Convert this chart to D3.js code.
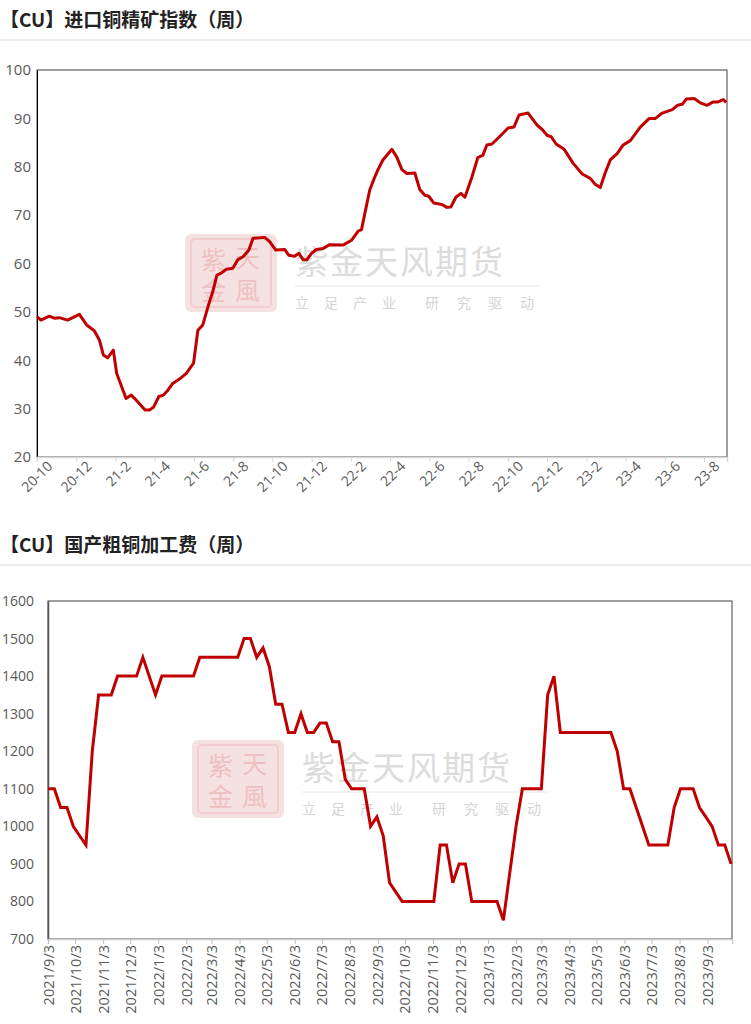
<!DOCTYPE html>
<html><head><meta charset="utf-8">
<script src="https://cdn.jsdelivr.net/npm/d3@7"></script>
<style>
body{margin:0;background:#fff;font-family:"Noto Sans CJK SC","Noto Sans",sans-serif;}
svg text{font-family:"Open Sans","Noto Sans CJK SC",sans-serif;}
</style></head><body>
<svg id="c" width="751" height="1024"></svg>
<script>
// ---- top chart: months since 2020-10 vs index ----
var topMonths = [0,0.20,0.63,0.88,1.14,1.56,2.16,2.53,2.92,3.18,3.38,3.60,3.89,4.06,4.54,4.80,5.05,5.51,5.73,5.94,
  6.21,6.45,6.67,6.92,7.26,7.61,7.98,8.20,8.45,8.71,8.96,9.17,9.39,9.65,9.98,10.24,10.50,10.80,11.01,11.60,
  11.86,12.16,12.62,12.84,13.13,13.35,13.56,13.76,13.99,14.24,14.58,14.92,15.60,16.03,16.37,16.54,16.96,
  17.22,17.37,17.63,18.09,18.34,18.60,18.85,19.26,19.51,19.77,19.97,20.23,20.64,20.89,21.10,21.35,21.61,21.81,
  22.17,22.47,22.73,22.93,23.19,23.60,24.01,24.31,24.57,25.03,25.49,25.75,26.00,26.21,26.46,26.87,27.33,27.79,
  28.20,28.45,28.71,28.96,29.22,29.57,29.88,30.24,30.75,31.21,31.52,31.87,32.38,32.64,32.89,33.09,33.50,33.81,
  34.16,34.47,34.72,34.98,35.13];
var topValues = [49.0,48.3,49.1,48.7,48.8,48.3,49.5,47.3,46.1,44.2,41.1,40.5,42.1,37.3,32.1,32.8,31.8,29.7,29.7,30.3,
  32.5,32.8,33.8,35.2,36.1,37.3,39.4,46.2,47.3,51.0,54.2,57.6,58.0,58.8,59.0,60.8,61.4,62.8,65.2,65.4,
  64.5,62.8,62.9,61.7,61.5,62.1,60.8,60.8,62.1,62.9,63.1,63.9,63.8,64.8,66.7,67.0,75.2,
  77.9,79.3,81.4,83.6,82.0,79.4,78.6,78.7,75.3,74.1,73.9,72.5,72.2,71.6,71.7,73.7,74.5,73.7,
  77.9,81.9,82.4,84.5,84.7,86.3,88.0,88.2,90.7,91.1,88.6,87.7,86.5,86.2,84.7,83.6,80.7,78.5,
  77.6,76.4,75.7,78.7,81.4,82.7,84.5,85.4,88.2,90.0,90.0,91.1,91.8,92.7,92.9,94.0,94.1,93.2,
  92.7,93.4,93.4,93.9,93.3];
var topTickLabels = ["20-10","20-12","21-2","21-4","21-6","21-8","21-10","21-12","22-2","22-4","22-6","22-8",
  "22-10","22-12","23-2","23-4","23-6","23-8"];
var topYTicks = [20,30,40,50,60,70,80,90,100];

// ---- bottom chart: weekly TC from 2021/9/3 ----
var bottomStart = "2021-09-03";
var bottomValues = [1100,1100,1050,1050,1000,975,950,1200,1350,1350,1350,1400,1400,1400,1400,1450,1400,1350,1400,
  1400,1400,1400,1400,1400,1450,1450,1450,1450,1450,1450,1450,1500,1500,1450,1475,1425,1325,1325,1250,1250,
  1300,1250,1250,1275,1275,1225,1225,1125,1100,1100,1100,1000,1025,975,850,825,800,800,800,800,800,800,
  950,950,850,900,900,800,800,800,800,800,750,875,1000,1100,1100,1100,1100,1350,1400,
  1250,1250,1250,1250,1250,1250,1250,1250,1250,1200,1100,1100,1050,1000,950,950,950,950,
  1050,1100,1100,1100,1050,1025,1000,950,950,900];
var bottomTickLabels = ["2021/9/3","2021/10/3","2021/11/3","2021/12/3","2022/1/3","2022/2/3","2022/3/3","2022/4/3",
  "2022/5/3","2022/6/3","2022/7/3","2022/8/3","2022/9/3","2022/10/3","2022/11/3","2022/12/3","2023/1/3",
  "2023/2/3","2023/3/3","2023/4/3","2023/5/3","2023/6/3","2023/7/3","2023/8/3","2023/9/3"];
var bottomYTicks = [700,800,900,1000,1100,1200,1300,1400,1500,1600];

var svg = d3.select("#c");
var red = "#c00000", labelColor = "#595959";

function title(y, text) {
	svg.append("text").attr("x", 0).attr("y", y)
		.style("font-family", "'Noto Sans CJK SC'").style("font-weight", "bold")
		.style("font-size", "19px").attr("fill", "#222").text(text);
}
function separator(y) {
	svg.append("line").attr("x1", 0).attr("x2", 751).attr("y1", y).attr("y2", y)
		.attr("stroke", "#d9d9d9");
}

function watermark(g, x, y) {
	var w = g.append("g").attr("transform", "translate(" + x + "," + y + ")").attr("opacity", 0.9);
	w.append("rect").attr("x", 0).attr("y", 0).attr("width", 92).attr("height", 78).attr("rx", 6)
		.attr("fill", "#f6dede");
	w.append("rect").attr("x", 6).attr("y", 5).attr("width", 80).attr("height", 68).attr("rx", 4)
		.attr("fill", "none").attr("stroke", "#f0c8c8").attr("stroke-width", 2);
	[["紫", 16, 35], ["天", 50, 33], ["金", 16, 66], ["風", 50, 66]].forEach(function(d) {
		w.append("text").attr("x", d[1]).attr("y", d[2]).attr("fill", "#ecbaba")
			.style("font-family", "'Noto Sans CJK SC'").style("font-size", "25px").text(d[0]);
	});
	w.append("text").attr("x", 110).attr("y", 40).attr("fill", "#d9d9d9")
		.style("font-family", "'Noto Sans CJK SC'").style("font-size", "33px")
		.style("letter-spacing", "2px").text("紫金天风期货");
	w.append("line").attr("x1", 110).attr("x2", 355).attr("y1", 52).attr("y2", 52)
		.attr("stroke", "#e6e6e6");
	var subs = ["立", "足", "产", "业", "研", "究", "驱", "动"];
	var sx = [110, 139, 168, 197, 240, 272, 303, 335];
	subs.forEach(function(s, i) {
		w.append("text").attr("x", sx[i]).attr("y", 74).attr("fill", "#d0d0d0")
			.style("font-family", "'Noto Sans CJK SC'").style("font-size", "14px").text(s);
	});
}

// ===== top chart =====
title(27, "【CU】进口铜精矿指数（周）");
separator(40);

var t = {left: 37, right: 727, top: 70, bottom: 457};
var tx = d3.scaleLinear().domain([0, 35.17]).range([t.left, t.right]);
var ty = d3.scaleLinear().domain([20, 100]).range([t.bottom, t.top]);
var tg = svg.append("g");

watermark(tg, 185, 234);

tg.append("rect").attr("x", t.left).attr("y", t.top).attr("width", t.right - t.left)
	.attr("height", t.bottom - t.top).attr("fill", "none").attr("stroke", "#404040").attr("stroke-width", 1);

var tyAxis = tg.append("g").attr("transform", "translate(" + t.left + ",0)")
	.call(d3.axisLeft(ty).tickValues(topYTicks).tickSize(0).tickPadding(6));
tyAxis.select(".domain").attr("stroke", "#000");
tyAxis.selectAll("text").attr("fill", labelColor).style("font-size", "15px");

var txAxis = tg.append("g").attr("transform", "translate(0," + t.bottom + ")")
	.call(d3.axisBottom(tx).tickValues(topTickLabels.map(function(d, i){ return i * 2; }))
		.tickSize(5).tickFormat(function(d){ return topTickLabels[d / 2]; }));
txAxis.select(".domain").attr("stroke", "#d9d9d9").attr("stroke-width", 1.5);
txAxis.selectAll("line").attr("stroke", "#d9d9d9");
txAxis.selectAll("text").attr("fill", labelColor).style("font-size", "14px")
	.attr("text-anchor", "end").attr("x", 4).attr("y", 10).attr("dy", "0.6em")
	.attr("transform", "rotate(-45)");

var topData = topMonths.map(function(m, i){ return [m, topValues[i]]; });
tg.append("path").datum(topData).attr("fill", "none").attr("stroke", red).attr("stroke-width", 3)
	.attr("stroke-linejoin", "round")
	.attr("d", d3.line().x(function(d){ return tx(d[0]); }).y(function(d){ return ty(d[1]); }));

// ===== bottom chart =====
title(552, "【CU】国产粗铜加工费（周）");
separator(565);

var b = {left: 48, right: 732, top: 601, bottom: 939};
var parse = d3.timeParse("%Y-%m-%d");
var start = parse(bottomStart);
var bottomData = bottomValues.map(function(v, i){ return [d3.timeDay.offset(start, 7 * i), v]; });
var bx = d3.scaleTime().domain([start, d3.timeDay.offset(start, 7 * (bottomValues.length - 1) + 1)])
	.range([b.left, b.right]);
var by = d3.scaleLinear().domain([700, 1600]).range([b.bottom, b.top]);
var bg = svg.append("g");

watermark(bg, 192, 740);

bg.append("rect").attr("x", b.left).attr("y", b.top).attr("width", b.right - b.left)
	.attr("height", b.bottom - b.top).attr("fill", "none").attr("stroke", "#404040").attr("stroke-width", 1);

var byAxis = bg.append("g").attr("transform", "translate(" + b.left + ",0)")
	.call(d3.axisLeft(by).tickValues(bottomYTicks).tickSize(0).tickPadding(14).tickFormat(d3.format("d")));
byAxis.select(".domain").attr("stroke", "#555").attr("stroke-width", 1.5);
byAxis.selectAll("text").attr("fill", labelColor).style("font-size", "14px");

var tickDates = bottomTickLabels.map(function(s){ return d3.timeParse("%Y/%m/%d")(s); });
var bxAxis = bg.append("g").attr("transform", "translate(0," + b.bottom + ")")
	.call(d3.axisBottom(bx).tickValues(tickDates).tickSize(5)
		.tickFormat(function(d, i){ return bottomTickLabels[i]; }));
bxAxis.select(".domain").attr("stroke", "#d0d0d0").attr("stroke-width", 1.5);
bxAxis.selectAll("line").attr("stroke", "#bfbfbf");
bxAxis.selectAll("text").attr("fill", labelColor).style("font-size", "14.5px")
	.attr("text-anchor", "end").attr("transform", "rotate(-90)")
	.attr("x", -6).attr("y", 0).attr("dy", "0.35em");

bg.append("path").datum(bottomData).attr("fill", "none").attr("stroke", red).attr("stroke-width", 3)
	.attr("stroke-linejoin", "miter")
	.attr("d", d3.line().x(function(d){ return bx(d[0]); }).y(function(d){ return by(d[1]); }));
</script>
</body></html>
